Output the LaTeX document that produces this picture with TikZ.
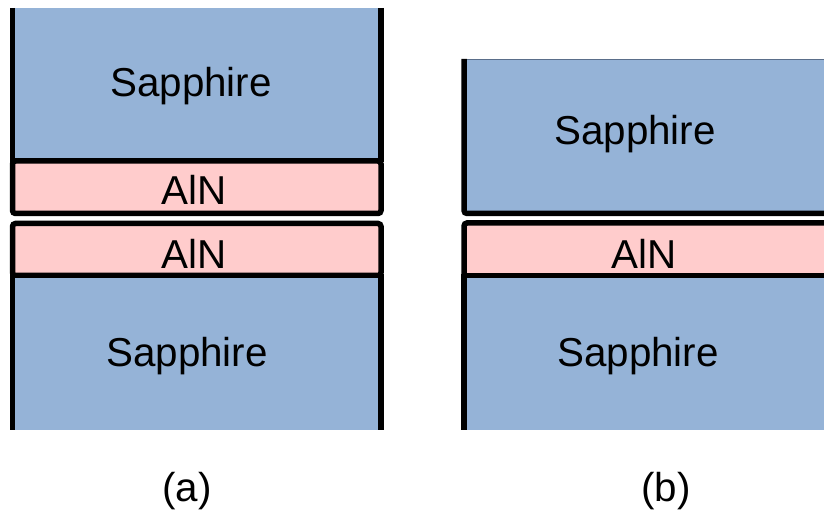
\documentclass[tikz,border=0pt]{standalone}
\usepackage{fontspec}
\setmainfont{Liberation Sans}
\definecolor{sapphire}{HTML}{95B3D7}
\definecolor{aln}{HTML}{FFCCCC}
\definecolor{rimline}{HTML}{5A6E8A}
\begin{document}
\begin{tikzpicture}[x=1bp,y=-1bp,
  wall/.style={line width=5.5bp,black},
  layerbox/.style={fill=aln,draw=black,line width=5.5bp,rounded corners=3bp},
  label/.style={font=\fontsize{40.5}{44}\selectfont,inner sep=0pt,anchor=center},
  caption/.style={font=\fontsize{40.5}{44}\selectfont,inner sep=0pt,anchor=center}]
\clip (0,0) rectangle (824,513);
\fill[white] (0,0) rectangle (824,513);

% ---- panel (a): two sapphire substrates bonded through two AlN films
\fill[sapphire] (12.5,8) rectangle (381,161);
\draw[wall] (12.5,8) -- (12.5,162);
\draw[wall] (381,8) -- (381,162);
\draw[layerbox] (12.5,161) rectangle (381,213.5);
\draw[layerbox] (12.5,223.5) rectangle (381,275.5);
\fill[sapphire] (12.5,278) rectangle (381,430);
\draw[wall] (12.5,274) -- (12.5,430);
\draw[wall] (381,274) -- (381,430);

\node[label] (sa1) at (191,86) {Sapphire};
\node[label] (aln1) at (194,190) {AlN};
\node[label] (aln2) at (194,254) {AlN};
\node[label] (sa2) at (187,356) {Sapphire};
\node[caption] (capa) at (187,491) {(a)};

% ---- panel (b): bare sapphire on AlN-coated sapphire
\fill[sapphire] (464,59) rectangle (840,213.5);
\draw[rimline,line width=0.8bp] (464,59.4) -- (840,59.4);
\draw[wall,rounded corners=3bp] (464,59) -- (464,213.5) -- (840,213.5);
\draw[layerbox] (464,223) rectangle (840,276);
\fill[sapphire] (464,278.5) rectangle (840,430);
\draw[wall] (464,274) -- (464,430);

\node[label] (sb1) at (635,134) {Sapphire};
\node[label] (aln3) at (644,254) {AlN};
\node[label] (sb2) at (638,356) {Sapphire};
\node[caption] (capb) at (666,491) {(b)};
\end{tikzpicture}
\end{document}
